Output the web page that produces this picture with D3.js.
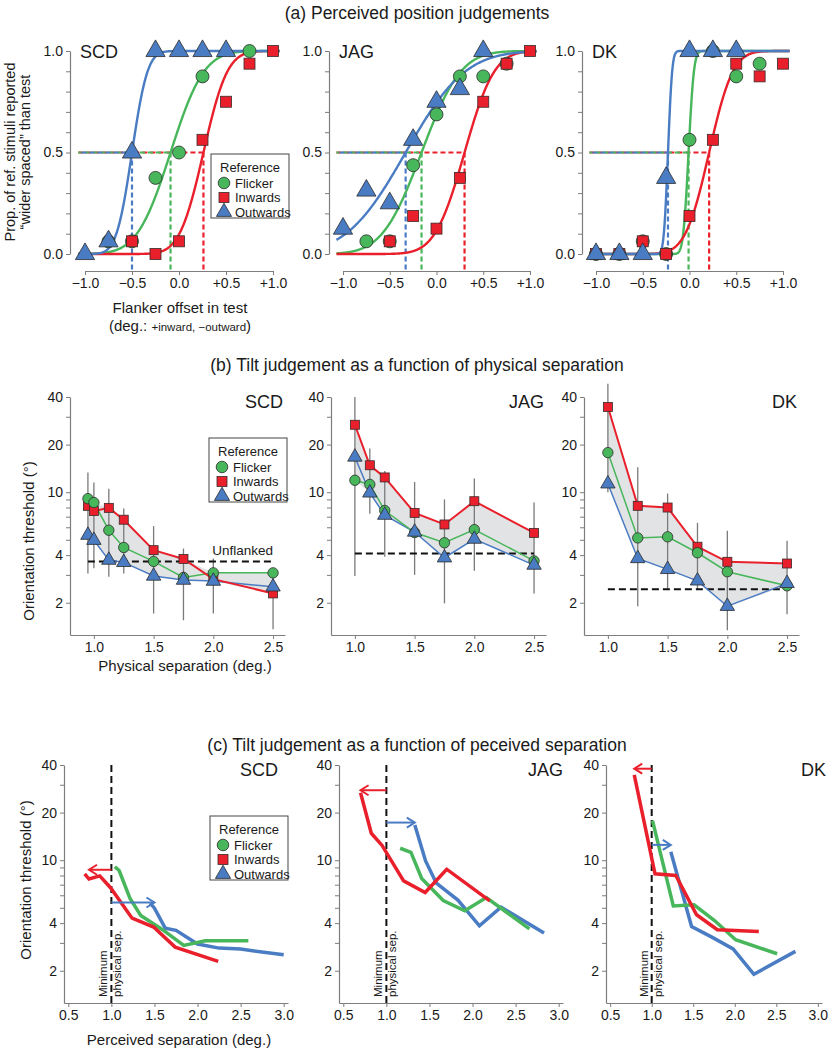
<!DOCTYPE html>
<html><head><meta charset="utf-8">
<script src="https://cdn.jsdelivr.net/npm/d3@7"></script>
<style>body{margin:0;background:#fff}svg{font-family:"Liberation Sans",Arial,Helvetica,sans-serif}</style>
</head><body><svg id="c" width="834" height="1050"></svg>
<script>
// ================= DATA =================
const subjects = ["SCD", "JAG", "DK"];
const seriesNames = ["Flicker", "Inwards", "Outwards"];
const seriesColors = ["#48b65b", "#e9202c", "#4a7cc3"];
const seriesShapes = ["circle", "square", "triangle"];

// (a) Perceived position judgements: proportion "wider spaced" at each flanker offset
const offsets = [-1, -0.75, -0.5, -0.25, 0, 0.25, 0.5, 0.75, 1];
const offsetTickLabels = ["\u22121.0", "\u22120.5", "0.0", "+0.5", "+1.0"];
const scdFlickerProp  = [null, 0.0625, 0.0625, 0.375, 0.5, 0.875, null, 1.0, null];
const scdInwardsProp  = [null, null, 0.0625, 0.0, 0.0625, 0.5625, 0.75, 0.9375, 1.0];
const scdOutwardsProp = [0.0, 0.0625, 0.5, 1.0, 1.0, 1.0, 1.0, null, null];
const jagFlickerProp  = [null, 0.0625, 0.0625, 0.4375, 0.6875, 0.875, 0.875, 0.9375, null];
const jagInwardsProp  = [null, null, 0.0625, 0.1875, 0.125, 0.375, 0.75, 0.9375, 1.0];
const jagOutwardsProp = [0.125, 0.3125, 0.25, 0.5625, 0.75, 0.8125, 1.0, null, null];
const dkFlickerProp   = [0.0, 0.0, 0.0625, 0.0, 0.5625, 1.0, 0.875, 0.9375, null];
const dkInwardsProp   = [0.0, 0.0, 0.0625, 0.0, 0.1875, 0.5625, 0.9375, 0.875, 0.9375];
const dkOutwardsProp  = [0.0, 0.0, 0.0, 0.375, 1.0, 1.0, 1.0, null, null];
// fitted psychometric functions (PSE and spread) [Flicker, Inwards, Outwards]
const scdFitPSE = [-0.09, 0.26, -0.5];
const scdFitSD  = [0.28, 0.2, 0.13];
const jagFitPSE = [-0.16, 0.30, -0.33];
const jagFitSD  = [0.33, 0.25, 0.5];
const dkFitPSE  = [-0.01, 0.21, -0.23];
const dkFitSD   = [0.045, 0.2, 0.035];

// (b) Orientation thresholds vs physical separation
const scdSep = [0.95, 1.0, 1.125, 1.25, 1.5, 1.75, 2.0, 2.5];
const scdFlicker  = [9.1, 8.6, 5.75, 4.47, 3.65, 2.89, 3.09, 3.09];
const scdInwards  = [8.2, 7.6, 7.96, 6.7, 4.3, 3.78, 2.82, 2.29];
const scdOutwards = [5.35, 4.97, 3.72, 3.6, 2.95, 2.78, 2.74, 2.52];
const scdErrLo = [3.06, 3.3, 2.92, 3.06, 1.71, 1.55, 1.71, 1.36];
const scdErrHi = [13.3, 11.5, 10.5, 7.9, 6.1, 4.4, 3.81, 3.1];
const scdUnflanked = 3.65;

const jagSep = [1.0, 1.125, 1.25, 1.5, 1.75, 2.0, 2.5];
const jagFlicker  = [11.9, 11.2, 7.66, 5.56, 4.79, 5.8, 3.68];
const jagInwards  = [26.7, 14.8, 12.4, 7.4, 6.25, 8.77, 5.53];
const jagOutwards = [16.7, 9.9, 7.16, 5.6, 3.85, 5.05, 3.46];
const jagErrLo = [2.95, 7.3, 3.9, 3.0, 1.98, 3.19, 2.29];
const jagErrHi = [40, 18.9, 13.6, 11.6, 9.0, 12.2, 8.6];
const jagUnflanked = 4.1;

const dkSep = [1.0, 1.25, 1.5, 1.75, 2.0, 2.5];
const dkFlicker  = [17.8, 5.14, 5.22, 4.14, 3.14, 2.56];
const dkInwards  = [34.6, 8.2, 8.0, 4.52, 3.63, 3.54];
const dkOutwards = [11.3, 3.81, 3.25, 2.75, 1.9, 2.65];
const dkErrLo = [10, 1.9, 2.46, 2.42, 1.34, 1.69];
const dkErrHi = [48.6, 14.4, 9.8, 6.4, 5.7, 4.93];
const dkUnflanked = 2.43;

// (c) arrow heights (shift of minimum physical separation) [Inwards, Outwards]
const scdArrowY = [8.7, 5.4];
const jagArrowY = [27.7, 17.3];
const dkArrowY  = [37.9, 12.5];

const logTicks = [2, 3, 4, 5, 6, 7, 8, 9, 10, 20, 30, 40];
const logTickLabels = [2, 4, 10, 20, 40];
const physTicks = [1.0, 1.5, 2.0, 2.5];
const percTicks = [0.5, 1.0, 1.5, 2.0, 2.5, 3.0];

// ================= DRAWING =================
const svg = d3.select("#c");
const AX = "#7d7d7d", TXT = "#1a1a1a";

function normCdf(z) {
  const x = Math.abs(z) / Math.SQRT2;
  const t = 1 / (1 + 0.3275911 * x);
  const y = 1 - (((((1.061405429 * t - 1.453152027) * t) + 1.421413741) * t - 0.284496736) * t + 0.254829592) * t * Math.exp(-x * x);
  return z >= 0 ? 0.5 * (1 + y) : 0.5 * (1 - y);
}

function styleAxis(sel, fs) {
  sel.select(".domain").attr("stroke", AX).attr("stroke-width", 1.2);
  sel.selectAll(".tick line").attr("stroke", AX).attr("stroke-width", 1);
  sel.selectAll(".tick text").attr("fill", TXT).attr("font-size", fs || 14)
     .attr("font-family", '"Liberation Sans", Arial, sans-serif');
}

function marker(g, shape, cx, cy, color, sz) {
  if (shape === "circle") {
    g.append("circle").attr("cx", cx).attr("cy", cy).attr("r", sz.c)
      .attr("fill", color).attr("stroke", "#2b2b2b").attr("stroke-width", 0.8);
  } else if (shape === "square") {
    g.append("rect").attr("x", cx - sz.s / 2).attr("y", cy - sz.s / 2).attr("width", sz.s).attr("height", sz.s)
      .attr("fill", color).attr("stroke", "#3a2a2a").attr("stroke-width", 0.8);
  } else {
    g.append("path").attr("d", d3.symbol(d3.symbolTriangle, sz.t)())
      .attr("transform", `translate(${cx},${cy})`)
      .attr("fill", color).attr("stroke", "#2b2b2b").attr("stroke-width", 0.8);
  }
}

function legend(x0, y0) {
  const g = svg.append("g");
  g.append("rect").attr("x", x0).attr("y", y0).attr("width", 78).attr("height", 64)
    .attr("fill", "#fff").attr("stroke", "#444").attr("stroke-width", 1);
  g.append("text").attr("x", x0 + 39).attr("y", y0 + 18).attr("text-anchor", "middle")
    .attr("font-size", 13).attr("fill", TXT).text("Reference");
  seriesNames.forEach((n, k) => {
    const cy = y0 + 29 + k * 14.5;
    marker(g, seriesShapes[k], x0 + 13, cy, seriesColors[k], {c: 5.8, s: 10, t: 100});
    g.append("text").attr("x", x0 + 24).attr("y", cy + 4.5).attr("font-size", 13).attr("fill", TXT).text(n);
  });
}

function title(txt, y) {
  svg.append("text").attr("x", 417).attr("y", y).attr("text-anchor", "middle")
    .attr("font-size", 17.5).attr("fill", TXT).text(txt);
}

// ---------- (a) ----------
title("(a) Perceived position judgements", 19);
const aProps = [[scdFlickerProp, scdInwardsProp, scdOutwardsProp],
                [jagFlickerProp, jagInwardsProp, jagOutwardsProp],
                [dkFlickerProp, dkInwardsProp, dkOutwardsProp]];
const aPSE = [scdFitPSE, jagFitPSE, dkFitPSE];
const aSD = [scdFitSD, jagFitSD, dkFitSD];
const aAxisX = [70, 329, 582], aX0 = [85, 343, 596], aX1 = [273, 530, 783];
subjects.forEach((name, i) => {
  const g = svg.append("g");
  const x = d3.scaleLinear().domain([-1, 1]).range([aX0[i], aX1[i]]);
  const y = d3.scaleLinear().domain([0, 1]).range([254, 51]);
  const xAxisY = 271;
  g.append("g").attr("transform", `translate(${aAxisX[i]},0)`)
    .call(d3.axisLeft(y).tickValues(d3.range(0, 11).map(k => k / 10)).tickSize(4).tickSizeOuter(0)
      .tickFormat(d => [0, 5, 10].includes(Math.round(d * 10)) ? d.toFixed(1) : ""))
    .call(s => styleAxis(s, 14));
  g.append("g").attr("transform", `translate(0,${xAxisY})`)
    .call(d3.axisBottom(x).tickValues([-1, -0.5, 0, 0.5, 1]).tickSize(4).tickSizeOuter(0)
      .tickFormat((d, k) => offsetTickLabels[k]))
    .call(s => styleAxis(s, 14));
  g.append("text").attr("x", aAxisX[i] + 10).attr("y", 58).attr("font-size", 18).attr("fill", TXT).text(name);

  // dashed PSE guides
  const order = [1, 0, 2];
  order.forEach((s, k) => {
    const p = aPSE[i][s];
    g.append("line").attr("x1", x(-1.07)).attr("x2", x(p)).attr("y1", y(0.5)).attr("y2", y(0.5))
      .attr("stroke", seriesColors[s]).attr("stroke-width", 2.2).attr("stroke-dasharray", "5,3")
      .attr("stroke-dashoffset", k * 2.5);
    g.append("line").attr("x1", x(p)).attr("x2", x(p)).attr("y1", y(0.5)).attr("y2", xAxisY)
      .attr("stroke", seriesColors[s]).attr("stroke-width", 2.2).attr("stroke-dasharray", "5,3");
  });
  // fitted curves
  const xs = d3.range(-1.07, 1.0701, 0.005);
  const line = d3.line().x(d => x(d[0])).y(d => y(d[1]));
  [0, 1, 2].forEach(s => {
    g.append("path").datum(xs.map(v => [v, normCdf((v - aPSE[i][s]) / aSD[i][s])]))
      .attr("d", line).attr("fill", "none").attr("stroke", seriesColors[s]).attr("stroke-width", 2.4);
  });
  // data points (green, red, blue on top)
  [0, 1, 2].forEach(s => {
    aProps[i][s].forEach((v, k) => {
      if (v === null) return;
      marker(g, seriesShapes[s], x(offsets[k]), y(v), seriesColors[s], {c: 6.5, s: 11, t: 160});
    });
  });
});
legend(211, 154);
// axis labels (a)
svg.append("text").attr("transform", "translate(15,152) rotate(-90)").attr("text-anchor", "middle")
  .attr("font-size", 14.5).attr("fill", TXT).text("Prop. of ref. stimuli reported");
svg.append("text").attr("transform", "translate(30,152) rotate(-90)").attr("text-anchor", "middle")
  .attr("font-size", 14.5).attr("fill", TXT).text("\u201Cwider spaced\u201D than test");
svg.append("text").attr("x", 180).attr("y", 313).attr("text-anchor", "middle")
  .attr("font-size", 15).attr("fill", TXT).text("Flanker offset in test");
const dl = svg.append("text").attr("x", 180).attr("y", 331).attr("text-anchor", "middle").attr("fill", TXT);
dl.append("tspan").attr("font-size", 15).text("(deg.: ");
dl.append("tspan").attr("font-size", 11.5).text("+inward, \u2212outward");
dl.append("tspan").attr("font-size", 15).text(")");

// ---------- (b) ----------
title("(b) Tilt judgement as a function of physical separation", 371);
const bSep = [scdSep, jagSep, dkSep];
const bVals = [[scdFlicker, scdInwards, scdOutwards], [jagFlicker, jagInwards, jagOutwards], [dkFlicker, dkInwards, dkOutwards]];
const bErrLo = [scdErrLo, jagErrLo, dkErrLo], bErrHi = [scdErrHi, jagErrHi, dkErrHi];
const bUnfl = [scdUnflanked, jagUnflanked, dkUnflanked];
const bAxisX = [70, 331, 584];
subjects.forEach((name, i) => {
  const g = svg.append("g");
  const x = d3.scaleLinear().domain([0.8, 2.6]).range([bAxisX[i], bAxisX[i] + 215]);
  const y = d3.scaleLog().domain([1.25, 40]).range([635, 397]);
  g.append("g").attr("transform", `translate(${bAxisX[i]},0)`)
    .call(d3.axisLeft(y).tickValues(logTicks).tickSize(4).tickSizeOuter(0)
      .tickFormat(d => logTickLabels.includes(d) ? String(d) : ""))
    .call(s => styleAxis(s, 14));
  g.append("g").attr("transform", `translate(0,635)`)
    .call(d3.axisBottom(x).tickValues(physTicks).tickSize(4).tickSizeOuter(0).tickFormat(d3.format(".1f")))
    .call(s => styleAxis(s, 14));
  g.append("text").attr("x", bAxisX[i] + 213).attr("y", 408).attr("text-anchor", "end")
    .attr("font-size", 18).attr("fill", TXT).text(name);
  const sep = bSep[i], vals = bVals[i];
  // shaded envelope
  const top = sep.map((s, k) => [s, d3.max(vals, v => v[k])]);
  const bot = sep.map((s, k) => [s, d3.min(vals, v => v[k])]);
  g.append("path").datum(top.concat(bot.slice().reverse()))
    .attr("d", d3.line().x(d => x(d[0])).y(d => y(d[1])))
    .attr("fill", "#e2e3e4").attr("stroke", "none");
  // error bars
  sep.forEach((s, k) => {
    g.append("line").attr("x1", x(s)).attr("x2", x(s)).attr("y1", y(bErrLo[i][k])).attr("y2", y(bErrHi[i][k]))
      .attr("stroke", "#7a7a7a").attr("stroke-width", 1.3);
  });
  // unflanked
  g.append("line").attr("x1", x(sep[0])).attr("x2", x(2.5)).attr("y1", y(bUnfl[i])).attr("y2", y(bUnfl[i]))
    .attr("stroke", "#111").attr("stroke-width", 2).attr("stroke-dasharray", "7,4");
  if (i === 0) {
    g.append("text").attr("x", x(2.5)).attr("y", y(bUnfl[i]) - 6).attr("text-anchor", "end")
      .attr("font-size", 13.5).attr("fill", TXT).text("Unflanked");
  }
  // series lines
  const widths = [1.5, 2, 1.5];
  [2, 0, 1].forEach(s => {
    g.append("path").datum(sep.map((v, k) => [v, vals[s][k]]))
      .attr("d", d3.line().x(d => x(d[0])).y(d => y(d[1])))
      .attr("fill", "none").attr("stroke", seriesColors[s]).attr("stroke-width", widths[s]);
  });
  [1, 0, 2].forEach(s => {
    sep.forEach((v, k) => marker(g, seriesShapes[s], x(v), y(vals[s][k]), seriesColors[s], {c: 5.2, s: 9, t: 90}));
  });
});
legend(209, 438);
svg.append("text").attr("transform", "translate(34,541) rotate(-90)").attr("text-anchor", "middle")
  .attr("font-size", 15).attr("fill", TXT).text("Orientation threshold (\u00B0)");
svg.append("text").attr("x", 185).attr("y", 671).attr("text-anchor", "middle")
  .attr("font-size", 15).attr("fill", TXT).text("Physical separation (deg.)");

// ---------- (c) ----------
title("(c) Tilt judgement as a function of peceived separation", 751);
const cArrowY = [scdArrowY, jagArrowY, dkArrowY];
const cAxisX = [64, 339, 606];
const cWidth = [224, 224, 216];
const cNameX = [278, 563, 826];
subjects.forEach((name, i) => {
  const g = svg.append("g");
  const x = d3.scaleLinear().domain([0.45, 3.05]).range([cAxisX[i], cAxisX[i] + cWidth[i]]);
  const y = d3.scaleLog().domain([1.25, 40]).range([1003, 765]);
  g.append("g").attr("transform", `translate(${cAxisX[i]},0)`)
    .call(d3.axisLeft(y).tickValues(logTicks).tickSize(4).tickSizeOuter(0)
      .tickFormat(d => logTickLabels.includes(d) ? String(d) : ""))
    .call(s => styleAxis(s, 14));
  g.append("g").attr("transform", `translate(0,1003)`)
    .call(d3.axisBottom(x).tickValues(percTicks).tickSize(4).tickSizeOuter(0).tickFormat(d3.format(".1f")))
    .call(s => styleAxis(s, 14));
  g.append("text").attr("x", cNameX[i]).attr("y", 776).attr("text-anchor", "end")
    .attr("font-size", 18).attr("fill", TXT).text(name);
  // minimum physical separation
  g.append("line").attr("x1", x(1)).attr("x2", x(1)).attr("y1", y(40)).attr("y2", 1003)
    .attr("stroke", "#111").attr("stroke-width", 2).attr("stroke-dasharray", "7,4");
  g.append("text").attr("transform", `translate(${x(1) - 4},997) rotate(-90)`)
    .attr("font-size", 11.5).attr("fill", TXT).text("Minimum");
  g.append("text").attr("transform", `translate(${x(1) + 10},997) rotate(-90)`)
    .attr("font-size", 11.5).attr("fill", TXT).text("physical sep.");
  const sep = bSep[i], vals = bVals[i], pse = aPSE[i];
  [2, 0, 1].forEach(s => {
    g.append("path").datum(sep.map((v, k) => [v - pse[s], vals[s][k]]))
      .attr("d", d3.line().x(d => x(d[0])).y(d => y(d[1])))
      .attr("fill", "none").attr("stroke", seriesColors[s]).attr("stroke-width", 3.5)
      .attr("stroke-linejoin", "miter");
  });
  // arrows (inwards, outwards)
  [1, 2].forEach((s, k) => {
    const yy = y(cArrowY[i][k]);
    const x1 = x(1), x2 = x(1 - pse[s]);
    const dir = x2 > x1 ? 1 : -1;
    g.append("line").attr("x1", x1).attr("x2", x2 - dir * 1).attr("y1", yy).attr("y2", yy)
      .attr("stroke", seriesColors[s]).attr("stroke-width", 2);
    g.append("path").attr("d", `M${x2 - dir * 8},${yy - 5}L${x2},${yy}L${x2 - dir * 8},${yy + 5}`)
      .attr("fill", "none").attr("stroke", seriesColors[s]).attr("stroke-width", 2);
  });
});
legend(210, 816);
svg.append("text").attr("transform", "translate(31,880) rotate(-90)").attr("text-anchor", "middle")
  .attr("font-size", 15).attr("fill", TXT).text("Orientation threshold (\u00B0)");
svg.append("text").attr("x", 179).attr("y", 1045).attr("text-anchor", "middle")
  .attr("font-size", 15).attr("fill", TXT).text("Perceived separation (deg.)");
</script></body></html>
